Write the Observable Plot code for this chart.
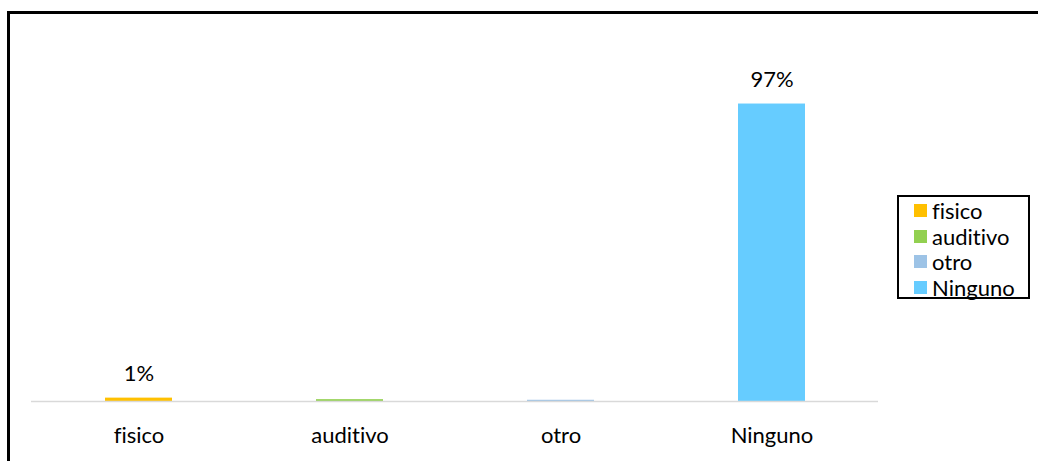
<!DOCTYPE html>
<html>
<head>
<meta charset="utf-8">
<script src="https://cdn.jsdelivr.net/npm/d3@7"></script>
<script src="https://cdn.jsdelivr.net/npm/@observablehq/plot@0.6"></script>
<style>
  html, body { margin: 0; padding: 0; background: #fff; }
  body { width: 1038px; height: 461px; position: relative; overflow: hidden; font-family: Lato, "Open Sans", sans-serif;
         font-variant-ligatures: none; font-feature-settings: "liga" 0, "clig" 0; }
  svg text { font-variant-ligatures: none; font-feature-settings: "liga" 0, "clig" 0; }
  #frame { position: absolute; left: 7px; top: 11px; width: 1100px; height: 500px;
           border-top: 3px solid #000; border-left: 3px solid #000; box-sizing: border-box; }
  #chart { position: absolute; left: 0; top: 0; }
  #legend { position: absolute; left: 897px; top: 195px; width: 133px; height: 104px;
            border: 2px solid #000; box-sizing: border-box; background: #fff;
            padding-top: 1px; }
  .item { display: flex; align-items: center; height: 25.6px; line-height: 25.6px; font-size: 22px; color: #000; }
  .sw { width: 13px; height: 13px; margin-left: 15px; margin-right: 5px; flex: none; }
</style>
</head>
<body>
<div id="frame"></div>
<div id="chart"></div>
<div id="legend"></div>
<script>
const categories = ["fisico", "auditivo", "otro", "Ninguno"];
const values = [1.1, 0.6, 0.4, 97];
const valueLabels = ["1%", "", "", "97%"];
const colors = ["#FFC000", "#92D050", "#9DC3E6", "#66CCFF"];

const data = categories.map((c, i) => ({cat: c, v: values[i], label: valueLabels[i]}));

const chart = Plot.plot({
  width: 1038,
  height: 461,
  marginLeft: 31,
  marginRight: 160,
  marginTop: 33,
  marginBottom: 60,
  style: {background: "transparent", fontFamily: "Lato, 'Open Sans', sans-serif", fontSize: "22px", color: "#000"},
  x: {domain: categories, paddingInner: 0.684, paddingOuter: 0.342, label: null},
  y: {domain: [0, 120], axis: null},
  color: {domain: categories, range: colors},
  marks: [
    Plot.barY(data, {x: "cat", y: "v", fill: "cat"}),
    Plot.ruleY([0], {stroke: "#d9d9d9", strokeWidth: 1.5}),
    Plot.text(data.filter(d => d.label), {x: "cat", y: "v", text: "label", dy: -24, fontSize: 22, fill: "#000"}),
    Plot.axisX({tickSize: 0, tickPadding: 26, fontSize: 22, label: null, fill: "#000"})
  ]
});
document.getElementById("chart").appendChild(chart);

const legend = document.getElementById("legend");
categories.forEach((c, i) => {
  const row = document.createElement("div");
  row.className = "item";
  const sw = document.createElement("span");
  sw.className = "sw";
  sw.style.background = colors[i];
  const t = document.createElement("span");
  t.textContent = c;
  row.appendChild(sw);
  row.appendChild(t);
  legend.appendChild(row);
});
</script>
</body>
</html>
